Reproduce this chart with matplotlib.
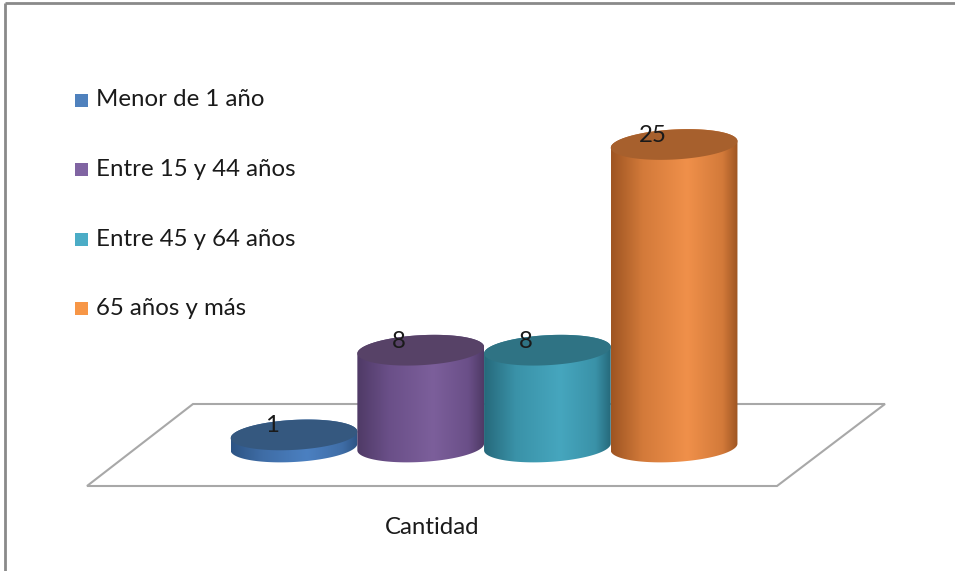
import numpy as np
import matplotlib.pyplot as plt
from matplotlib.patches import Polygon, Rectangle
from matplotlib.colors import LinearSegmentedColormap

# datos del grafico
categorias = ["Menor de 1 año", "Entre 15 y 44 años", "Entre 45 y 64 años", "65 años y más"]
cantidad = [1, 8, 8, 25]
etiqueta_x = "Cantidad"

# colores (leyenda, lado claro, medio, lado oscuro, tapa)
colores = ["#4f81bd", "#8064a2", "#4bacc6", "#f79646"]
claro = ["#4b80c1", "#7c5f9b", "#46a6be", "#f0904a"]
medio = ["#3f6da6", "#6a4f88", "#3a92a8", "#d37a3a"]
oscuro = ["#2d5484", "#4f3a66", "#26697b", "#9e5522"]
tapa = ["#35587f", "#574267", "#2f7384", "#a7602d"]

plt.rcParams['font.family'] = ['Lato', 'DejaVu Sans']

W, H = 955, 571
fig = plt.figure(figsize=(W / 100, H / 100), dpi=100)

# capa en pixeles para marco, piso y leyenda
ov = fig.add_axes([0, 0, 1, 1], zorder=0)
ov.set_xlim(0, W)
ov.set_ylim(H, 0)
ov.axis('off')

ov.plot([5, W], [3, 3], color='#8a8a8a', lw=2, solid_capstyle='butt')
ov.plot([5, 5], [3, H], color='#8a8a8a', lw=2, solid_capstyle='butt')
ov.add_patch(Polygon([(193, 404), (885, 404), (777, 486), (87, 486)], closed=True,
                     fill=False, edgecolor='#a8a8a8', lw=1.5))

fs = 17.3
for k, (nombre, c) in enumerate(zip(categorias, colores)):
    yy = 100 + k * 69.5
    ov.add_patch(Rectangle((74.5, yy - 6.5), 13, 13, facecolor=c, edgecolor='none'))
    ov.text(96, yy, nombre, fontsize=fs, color='#1a1a1a', va='center', ha='left')

ov.text(432, 527, etiqueta_x, fontsize=fs, color='#1a1a1a', va='center', ha='center')

# ejes de datos para los cilindros
ax = fig.add_axes([0, 0, 1, 1], zorder=1)
ax.patch.set_alpha(0)
ax.axis('off')

px_x, px_y = 126.7, 12.1   # pixeles por categoria / por unidad
x0, y0 = 294, 447

a = 0.5          # semi ancho
b = 15 / px_y    # semi alto de la elipse
s = 0.55         # inclinacion

def elipse(cx, cy, t):
    return np.column_stack([cx + a * np.cos(t), cy + b * np.sin(t) + s * a * np.cos(t)])

for i, v in enumerate(cantidad):
    cx = i
    frente = elipse(cx, 0, np.linspace(np.pi, 2 * np.pi, 80))
    atras = elipse(cx, v, np.linspace(0, np.pi, 80))
    cuerpo = Polygon(np.vstack([frente, atras]), closed=True, facecolor='none',
                     edgecolor='none', zorder=2 + i * 3)
    ax.add_patch(cuerpo)
    cmap = LinearSegmentedColormap.from_list(
        'c%d' % i, [(0, oscuro[i]), (0.25, medio[i]), (0.6, claro[i]),
                    (0.88, medio[i]), (1, oscuro[i])])
    grad = np.linspace(0, 1, 256).reshape(1, -1)
    img = ax.imshow(grad, cmap=cmap, aspect='auto', interpolation='bicubic',
                    extent=[cx - a, cx + a, -b - 1, v + b + 1], zorder=2 + i * 3)
    img.set_clip_path(cuerpo)
    ax.add_patch(Polygon(elipse(cx, v, np.linspace(0, 2 * np.pi, 160)), closed=True,
                         facecolor=tapa[i], edgecolor='none', zorder=3 + i * 3))
    ax.text(cx - 0.17, v + 0.75, str(v), fontsize=fs, color='#1a1a1a',
            ha='center', va='center', zorder=20)

ax.set_xlim(-x0 / px_x, (W - x0) / px_x)
ax.set_ylim(-(H - y0) / px_y, y0 / px_y)

fig.savefig('out.png', dpi=100, facecolor='white')
